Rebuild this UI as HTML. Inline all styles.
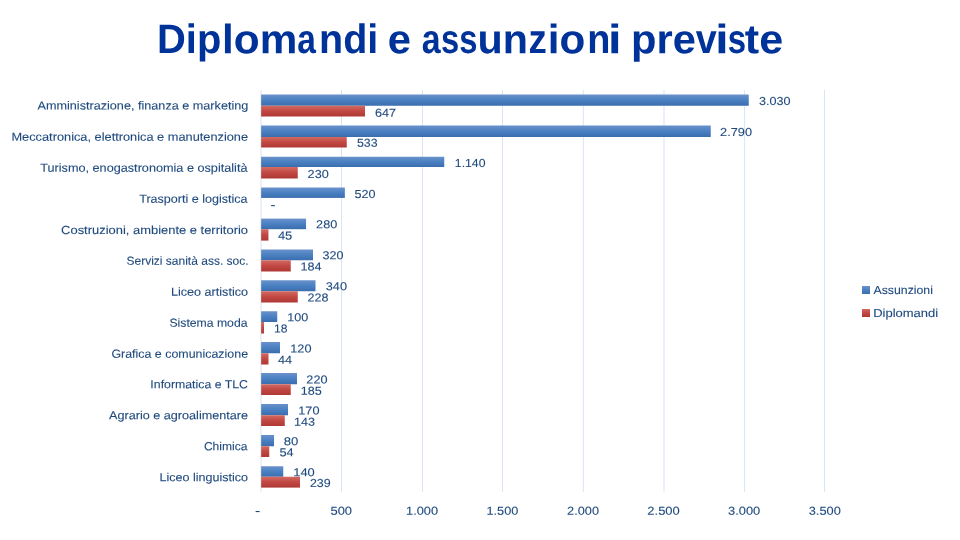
<!DOCTYPE html>
<html><head><meta charset="utf-8"><title>Diplomandi e assunzioni previste</title>
<style>
html,body{margin:0;padding:0;background:#fff;}
body{width:960px;height:540px;overflow:hidden;font-family:"Liberation Sans",sans-serif;}
svg{display:block;font-family:"Liberation Sans",sans-serif;will-change:transform;}
text{text-rendering:geometricPrecision;}
text.t{stroke:#1F497D;stroke-width:0.1;}
</style></head><body>
<svg width="960" height="540" viewBox="0 0 960 540">
<defs>
<linearGradient id="gb" x1="0" y1="0" x2="0" y2="1"><stop offset="0" stop-color="#6A92CB"/><stop offset="0.5" stop-color="#4A80C2"/><stop offset="1" stop-color="#3A6DAE"/></linearGradient>
<linearGradient id="gr" x1="0" y1="0" x2="0" y2="1"><stop offset="0" stop-color="#D36B63"/><stop offset="0.5" stop-color="#C14742"/><stop offset="1" stop-color="#AF3935"/></linearGradient>
<filter id="bl" filterUnits="userSpaceOnUse" x="0" y="0" width="960" height="540"><feGaussianBlur stdDeviation="0.3"/></filter>
</defs>
<rect width="960" height="540" fill="#fff"/>
<rect x="260.50" y="90.0" width="1" height="401.90" fill="#D9E4F4"/>
<rect x="341.00" y="90.0" width="1" height="401.90" fill="#D9E4F4"/>
<rect x="422.00" y="90.0" width="1" height="401.90" fill="#D9E4F4"/>
<rect x="502.00" y="90.0" width="1" height="401.90" fill="#D9E4F4"/>
<rect x="582.80" y="90.0" width="1" height="401.90" fill="#D9E4F4"/>
<rect x="663.50" y="90.0" width="1" height="401.90" fill="#D9E4F4"/>
<rect x="744.10" y="90.0" width="1" height="401.90" fill="#D9E4F4"/>
<rect x="824.00" y="90.0" width="1" height="401.90" fill="#D9E4F4"/>
<rect x="261.15" y="94.50" width="487.60" height="11.25" fill="url(#gb)"/>
<rect x="261.15" y="105.75" width="103.85" height="10.75" fill="url(#gr)"/>
<rect x="261.15" y="125.50" width="449.60" height="11.50" fill="url(#gb)"/>
<rect x="261.15" y="137.00" width="85.60" height="10.50" fill="url(#gr)"/>
<rect x="261.15" y="156.75" width="183.10" height="10.25" fill="url(#gb)"/>
<rect x="261.15" y="167.00" width="36.60" height="11.50" fill="url(#gr)"/>
<rect x="261.15" y="187.50" width="83.70" height="10.40" fill="url(#gb)"/>
<rect x="261.15" y="218.60" width="44.90" height="10.60" fill="url(#gb)"/>
<rect x="261.15" y="229.20" width="7.30" height="11.40" fill="url(#gr)"/>
<rect x="261.15" y="249.50" width="51.85" height="10.75" fill="url(#gb)"/>
<rect x="261.15" y="260.25" width="29.60" height="11.25" fill="url(#gr)"/>
<rect x="261.15" y="280.25" width="54.35" height="11.00" fill="url(#gb)"/>
<rect x="261.15" y="291.25" width="36.60" height="11.25" fill="url(#gr)"/>
<rect x="261.15" y="311.25" width="16.10" height="10.75" fill="url(#gb)"/>
<rect x="261.15" y="322.00" width="2.85" height="11.50" fill="url(#gr)"/>
<rect x="261.15" y="342.00" width="18.85" height="11.25" fill="url(#gb)"/>
<rect x="261.15" y="353.25" width="7.35" height="11.25" fill="url(#gr)"/>
<rect x="261.15" y="373.00" width="35.85" height="11.25" fill="url(#gb)"/>
<rect x="261.15" y="384.25" width="29.60" height="10.75" fill="url(#gr)"/>
<rect x="261.15" y="404.00" width="26.85" height="11.25" fill="url(#gb)"/>
<rect x="261.15" y="415.25" width="23.60" height="10.75" fill="url(#gr)"/>
<rect x="261.15" y="435.00" width="12.85" height="11.25" fill="url(#gb)"/>
<rect x="261.15" y="446.25" width="8.10" height="10.75" fill="url(#gr)"/>
<rect x="261.15" y="466.25" width="22.10" height="10.50" fill="url(#gb)"/>
<rect x="261.15" y="476.75" width="38.85" height="10.85" fill="url(#gr)"/>
<rect x="862" y="286" width="8" height="8" fill="url(#gb)"/>
<rect x="862" y="309" width="8" height="8" fill="url(#gr)"/>
<text transform="matrix(1 0.0005 0 1 157.03 53.33)" font-size="41.0" font-weight="700" fill="#003399" textLength="64.31" lengthAdjust="spacingAndGlyphs">Dip</text>
<text transform="matrix(1 0.0005 0 1 222.04 53.33)" font-size="41.0" font-weight="700" fill="#003399" textLength="75.28" lengthAdjust="spacingAndGlyphs">lom</text>
<text transform="matrix(1 0.0005 0 1 297.19 53.35)" font-size="41.0" font-weight="700" fill="#003399" textLength="18.62" lengthAdjust="spacingAndGlyphs">a</text>
<text transform="matrix(1 0.0005 0 1 319.10 53.34)" font-size="41.0" font-weight="700" fill="#003399" textLength="59.20" lengthAdjust="spacingAndGlyphs">ndi</text>
<text transform="matrix(1 0.0005 0 1 387.87 53.34)" font-size="41.0" font-weight="700" fill="#003399" textLength="23.26" lengthAdjust="spacingAndGlyphs">e</text>
<text transform="matrix(1 0.0005 0 1 421.77 53.35)" font-size="41.0" font-weight="700" fill="#003399" textLength="18.86" lengthAdjust="spacingAndGlyphs">a</text>
<text transform="matrix(1 0.0005 0 1 441.04 53.34)" font-size="41.0" font-weight="700" fill="#003399" textLength="36.41" lengthAdjust="spacingAndGlyphs">ss</text>
<text transform="matrix(1 0.0005 0 1 477.44 53.34)" font-size="41.0" font-weight="700" fill="#003399" textLength="50.42" lengthAdjust="spacingAndGlyphs">un</text>
<text transform="matrix(1 0.0005 0 1 528.54 53.35)" font-size="41.0" font-weight="700" fill="#003399" textLength="18.29" lengthAdjust="spacingAndGlyphs">z</text>
<text transform="matrix(1 0.0005 0 1 547.85 53.34)" font-size="41.0" font-weight="700" fill="#003399" textLength="37.49" lengthAdjust="spacingAndGlyphs">io</text>
<text transform="matrix(1 0.0005 0 1 587.20 53.34)" font-size="41.0" font-weight="700" fill="#003399" textLength="23.15" lengthAdjust="spacingAndGlyphs">n</text>
<text transform="matrix(1 0.0005 0 1 607.89 53.35)" font-size="41.0" font-weight="700" fill="#003399" textLength="13.57" lengthAdjust="spacingAndGlyphs">i</text>
<text transform="matrix(1 0.0005 0 1 631.05 53.33)" font-size="41.0" font-weight="700" fill="#003399" textLength="64.87" lengthAdjust="spacingAndGlyphs">pre</text>
<text transform="matrix(1 0.0005 0 1 695.85 53.34)" font-size="41.0" font-weight="700" fill="#003399" textLength="21.01" lengthAdjust="spacingAndGlyphs">v</text>
<text transform="matrix(1 0.0005 0 1 715.34 53.35)" font-size="41.0" font-weight="700" fill="#003399" textLength="13.36" lengthAdjust="spacingAndGlyphs">i</text>
<text transform="matrix(1 0.0005 0 1 727.63 53.35)" font-size="41.0" font-weight="700" fill="#003399" textLength="18.33" lengthAdjust="spacingAndGlyphs">s</text>
<text transform="matrix(1 0.0005 0 1 744.77 53.34)" font-size="41.0" font-weight="700" fill="#003399" textLength="38.40" lengthAdjust="spacingAndGlyphs">te</text>
<g filter="url(#bl)">
<text transform="matrix(1 0.0005 0 1 37.48 109.40)" font-size="11.7" class="t" fill="#1F497D" textLength="210.84" lengthAdjust="spacingAndGlyphs">Amministrazione, finanza e marketing</text>
<text transform="matrix(1 0.0005 0 1 759.02 104.99)" font-size="11.6" class="t" fill="#1F497D" textLength="31.47" lengthAdjust="spacingAndGlyphs">3.030</text>
<text transform="matrix(1 0.0005 0 1 375.11 116.74)" font-size="11.6" class="t" fill="#1F497D" textLength="21.02" lengthAdjust="spacingAndGlyphs">647</text>
<text transform="matrix(1 0.0005 0 1 11.45 140.64)" font-size="11.7" class="t" fill="#1F497D" textLength="236.62" lengthAdjust="spacingAndGlyphs">Meccatronica, elettronica e manutenzione</text>
<text transform="matrix(1 0.0005 0 1 720.11 135.99)" font-size="11.6" class="t" fill="#1F497D" textLength="31.89" lengthAdjust="spacingAndGlyphs">2.790</text>
<text transform="matrix(1 0.0005 0 1 357.01 146.74)" font-size="11.6" class="t" fill="#1F497D" textLength="20.53" lengthAdjust="spacingAndGlyphs">533</text>
<text transform="matrix(1 0.0005 0 1 40.22 171.65)" font-size="11.7" class="t" fill="#1F497D" textLength="207.28" lengthAdjust="spacingAndGlyphs">Turismo, enogastronomia e ospitalità</text>
<text transform="matrix(1 0.0005 0 1 454.82 166.99)" font-size="11.6" class="t" fill="#1F497D" textLength="30.66" lengthAdjust="spacingAndGlyphs">1.140</text>
<text transform="matrix(1 0.0005 0 1 307.61 177.99)" font-size="11.6" class="t" fill="#1F497D" textLength="21.13" lengthAdjust="spacingAndGlyphs">230</text>
<text transform="matrix(1 0.0005 0 1 139.22 202.67)" font-size="11.7" class="t" fill="#1F497D" textLength="108.28" lengthAdjust="spacingAndGlyphs">Trasporti e logistica</text>
<text transform="matrix(1 0.0005 0 1 354.50 197.99)" font-size="11.6" class="t" fill="#1F497D" textLength="21.00" lengthAdjust="spacingAndGlyphs">520</text>
<rect class="t" x="271.1" y="205.1" width="3.8" height="1.1" fill="#1F497D"/>
<text transform="matrix(1 0.0005 0 1 61.09 233.90)" font-size="11.7" class="t" fill="#1F497D" textLength="186.95" lengthAdjust="spacingAndGlyphs">Costruzioni, ambiente e territorio</text>
<text transform="matrix(1 0.0005 0 1 316.11 228.24)" font-size="11.6" class="t" fill="#1F497D" textLength="21.13" lengthAdjust="spacingAndGlyphs">280</text>
<text transform="matrix(1 0.0005 0 1 277.95 239.50)" font-size="11.6" class="t" fill="#1F497D" textLength="14.34" lengthAdjust="spacingAndGlyphs">45</text>
<text transform="matrix(1 0.0005 0 1 126.45 264.67)" font-size="11.7" class="t" fill="#1F497D" textLength="122.14" lengthAdjust="spacingAndGlyphs">Servizi sanità ass. soc.</text>
<text transform="matrix(1 0.0005 0 1 322.52 259.24)" font-size="11.6" class="t" fill="#1F497D" textLength="20.97" lengthAdjust="spacingAndGlyphs">320</text>
<text transform="matrix(1 0.0005 0 1 300.54 270.49)" font-size="11.6" class="t" fill="#1F497D" textLength="21.08" lengthAdjust="spacingAndGlyphs">184</text>
<text transform="matrix(1 0.0005 0 1 170.97 295.68)" font-size="11.7" class="t" fill="#1F497D" textLength="77.06" lengthAdjust="spacingAndGlyphs">Liceo artistico</text>
<text transform="matrix(1 0.0005 0 1 325.77 290.24)" font-size="11.6" class="t" fill="#1F497D" textLength="21.23" lengthAdjust="spacingAndGlyphs">340</text>
<text transform="matrix(1 0.0005 0 1 307.62 301.49)" font-size="11.6" class="t" fill="#1F497D" textLength="20.93" lengthAdjust="spacingAndGlyphs">228</text>
<text transform="matrix(1 0.0005 0 1 169.45 326.68)" font-size="11.7" class="t" fill="#1F497D" textLength="78.05" lengthAdjust="spacingAndGlyphs">Sistema moda</text>
<text transform="matrix(1 0.0005 0 1 287.29 321.24)" font-size="11.6" class="t" fill="#1F497D" textLength="20.95" lengthAdjust="spacingAndGlyphs">100</text>
<text transform="matrix(1 0.0005 0 1 274.08 332.50)" font-size="11.6" class="t" fill="#1F497D" textLength="13.45" lengthAdjust="spacingAndGlyphs">18</text>
<text transform="matrix(1 0.0005 0 1 111.38 357.67)" font-size="11.7" class="t" fill="#1F497D" textLength="136.68" lengthAdjust="spacingAndGlyphs">Grafica e comunicazione</text>
<text transform="matrix(1 0.0005 0 1 290.28 352.49)" font-size="11.6" class="t" fill="#1F497D" textLength="21.22" lengthAdjust="spacingAndGlyphs">120</text>
<text transform="matrix(1 0.0005 0 1 277.96 363.75)" font-size="11.6" class="t" fill="#1F497D" textLength="14.17" lengthAdjust="spacingAndGlyphs">44</text>
<text transform="matrix(1 0.0005 0 1 150.37 388.18)" font-size="11.7" class="t" fill="#1F497D" textLength="97.60" lengthAdjust="spacingAndGlyphs">Informatica e TLC</text>
<text transform="matrix(1 0.0005 0 1 306.36 383.49)" font-size="11.6" class="t" fill="#1F497D" textLength="21.13" lengthAdjust="spacingAndGlyphs">220</text>
<text transform="matrix(1 0.0005 0 1 300.79 394.74)" font-size="11.6" class="t" fill="#1F497D" textLength="20.99" lengthAdjust="spacingAndGlyphs">185</text>
<text transform="matrix(1 0.0005 0 1 108.98 419.17)" font-size="11.7" class="t" fill="#1F497D" textLength="139.09" lengthAdjust="spacingAndGlyphs">Agrario e agroalimentare</text>
<text transform="matrix(1 0.0005 0 1 298.28 414.49)" font-size="11.6" class="t" fill="#1F497D" textLength="21.22" lengthAdjust="spacingAndGlyphs">170</text>
<text transform="matrix(1 0.0005 0 1 294.04 425.74)" font-size="11.6" class="t" fill="#1F497D" textLength="21.01" lengthAdjust="spacingAndGlyphs">143</text>
<text transform="matrix(1 0.0005 0 1 203.89 450.19)" font-size="11.7" class="t" fill="#1F497D" textLength="43.61" lengthAdjust="spacingAndGlyphs">Chimica</text>
<text transform="matrix(1 0.0005 0 1 283.68 445.25)" font-size="11.6" class="t" fill="#1F497D" textLength="14.58" lengthAdjust="spacingAndGlyphs">80</text>
<text transform="matrix(1 0.0005 0 1 279.49 456.25)" font-size="11.6" class="t" fill="#1F497D" textLength="14.13" lengthAdjust="spacingAndGlyphs">54</text>
<text transform="matrix(1 0.0005 0 1 159.47 481.18)" font-size="11.7" class="t" fill="#1F497D" textLength="88.56" lengthAdjust="spacingAndGlyphs">Liceo linguistico</text>
<text transform="matrix(1 0.0005 0 1 293.27 476.24)" font-size="11.6" class="t" fill="#1F497D" textLength="21.48" lengthAdjust="spacingAndGlyphs">140</text>
<text transform="matrix(1 0.0005 0 1 309.88 486.99)" font-size="11.6" class="t" fill="#1F497D" textLength="20.71" lengthAdjust="spacingAndGlyphs">239</text>
<text transform="matrix(1 0.0005 0 1 330.48 514.69)" font-size="11.6" class="t" fill="#1F497D" textLength="21.52" lengthAdjust="spacingAndGlyphs">500</text>
<text transform="matrix(1 0.0005 0 1 406.03 514.69)" font-size="11.6" class="t" fill="#1F497D" textLength="31.97" lengthAdjust="spacingAndGlyphs">1.000</text>
<text transform="matrix(1 0.0005 0 1 486.53 514.69)" font-size="11.6" class="t" fill="#1F497D" textLength="31.71" lengthAdjust="spacingAndGlyphs">1.500</text>
<text transform="matrix(1 0.0005 0 1 567.11 514.69)" font-size="11.6" class="t" fill="#1F497D" textLength="31.89" lengthAdjust="spacingAndGlyphs">2.000</text>
<text transform="matrix(1 0.0005 0 1 647.35 514.69)" font-size="11.6" class="t" fill="#1F497D" textLength="32.41" lengthAdjust="spacingAndGlyphs">2.500</text>
<text transform="matrix(1 0.0005 0 1 728.01 514.69)" font-size="11.6" class="t" fill="#1F497D" textLength="32.24" lengthAdjust="spacingAndGlyphs">3.000</text>
<text transform="matrix(1 0.0005 0 1 808.76 514.69)" font-size="11.6" class="t" fill="#1F497D" textLength="31.99" lengthAdjust="spacingAndGlyphs">3.500</text>
<rect class="t" x="255.6" y="511.0" width="4.0" height="1.1" fill="#1F497D"/>
<text transform="matrix(1 0.0005 0 1 873.48 293.89)" font-size="11.7" class="t" fill="#1F497D" textLength="59.45" lengthAdjust="spacingAndGlyphs">Assunzioni</text>
<text transform="matrix(1 0.0005 0 1 873.13 316.88)" font-size="11.7" class="t" fill="#1F497D" textLength="65.04" lengthAdjust="spacingAndGlyphs">Diplomandi</text>
</g>
</svg>
</body></html>
